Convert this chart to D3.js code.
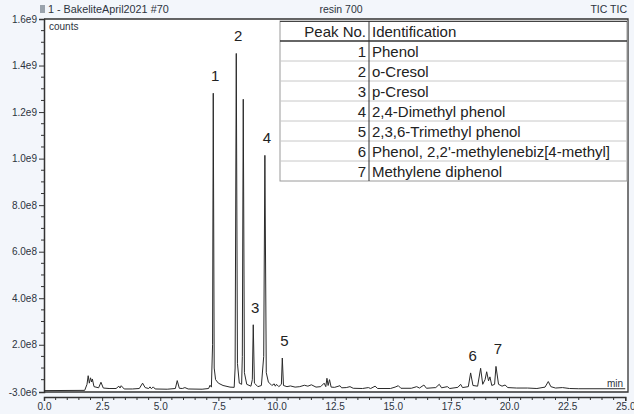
<!DOCTYPE html>
<html><head><meta charset="utf-8">
<script src="https://cdn.jsdelivr.net/npm/d3@7"></script>
<style>
html,body{margin:0;padding:0;background:#f3f6fb;}
svg{display:block;font-family:"Liberation Sans",Arial,sans-serif;}
</style></head>
<body>
<svg id="c" width="634" height="414"></svg>
<script>
// ---- data ----
const rtMinutes = [0.0,1.75,1.85,1.90,1.95,2.00,2.05,2.08,2.15,2.35,2.45,2.55,2.8,3.1,3.22,3.27,3.32,3.45,3.8,4.1,4.24,4.35,4.5,4.56,4.62,4.70,4.78,5.3,5.65,5.73,5.82,5.95,6.06,6.2,6.8,7.08,7.14,7.2,7.25,7.28,7.32,7.38,7.5,7.7,8.0,8.18,8.22,8.27,8.32,8.40,8.50,8.53,8.57,8.62,8.72,8.9,8.96,9.00,9.05,9.2,9.35,9.45,9.50,9.56,9.65,9.8,9.9,9.95,10.0,10.1,10.21,10.25,10.30,10.45,10.6,10.8,11.0,11.2,11.35,11.5,11.7,11.9,12.05,12.12,12.17,12.22,12.28,12.35,12.5,12.73,12.8,13.0,13.16,13.3,13.7,13.95,14.05,14.24,14.35,14.9,15.1,15.24,15.35,15.8,16.03,16.15,16.34,16.45,16.85,17.0,17.1,17.35,17.45,17.8,17.92,18.0,18.25,18.35,18.45,18.65,18.78,18.87,18.97,19.04,19.12,19.18,19.26,19.38,19.44,19.55,19.7,19.83,19.95,20.33,20.8,21.2,21.55,21.69,21.8,22.0,22.3,22.6,23.0,24.0,25.0];
const counts = [3e6,4e6,3.0e7,6.7e7,3.5e7,5.8e7,4.0e7,5.3e7,2.0e7,1.5e7,3.9e7,1.4e7,1.2e7,1.2e7,2.2e7,1.4e7,2.4e7,1.0e7,1.0e7,1.2e7,3.5e7,1.6e7,1.2e7,1.9e7,1.1e7,1.9e7,1.0e7,9e6,1.2e7,4.6e7,1.3e7,1.2e7,1.6e7,1.0e7,9e6,1.2e7,2.6e7,1.8e7,2.0e8,1.281e9,1.0e8,5.0e7,3.5e7,2.5e7,1.8e7,1.7e7,1.0e8,1.452e9,1.2e8,3.5e7,3.0e7,1.5e8,1.255e9,8e7,3.0e7,2.2e7,5e7,2.86e8,3.5e7,2.0e7,2.5e7,1.5e8,1.014e9,8e7,4e7,2.5e7,3.2e7,2.2e7,3.0e7,2.0e7,3.0e7,1.43e8,2.5e7,2.0e7,2.3e7,1.8e7,2.0e7,2.6e7,2.2e7,2.8e7,1.8e7,2.0e7,3.5e7,2.0e7,5.6e7,2.5e7,5.0e7,1.8e7,1.7e7,2.4e7,1.5e7,1.6e7,2.0e7,1.3e7,1.2e7,1.6e7,1.2e7,2.2e7,1.2e7,1.2e7,1.8e7,2.4e7,1.3e7,1.3e7,2.0e7,1.4e7,2.7e7,1.3e7,1.6e7,3.0e7,1.5e7,2.0e7,1.2e7,1.7e7,3.0e7,1.6e7,2.0e7,7.9e7,2.5e7,2.2e7,9.9e7,3.0e7,5e7,8.4e7,4.5e7,6.2e7,2.5e7,3.0e7,1.07e8,3.0e7,2.2e7,2.7e7,1.6e7,1.4e7,1.4e7,1.2e7,1.8e7,4.2e7,2.0e7,1.4e7,1.6e7,1.2e7,1.1e7,1.1e7,1.1e7];

const peakNos = ["1","2","3","4","5","6","7"];
const peakTimes = [7.28,8.27,9.00,9.50,10.25,18.35,19.44];
const peakApex = [1.281e9,1.452e9,2.86e8,1.014e9,1.43e8,7.9e7,1.07e8];
const compounds = ["Phenol","o-Cresol","p-Cresol","2,4-Dimethyl phenol","2,3,6-Trimethyl phenol","Phenol, 2,2'-methylenebiz[4-methyl]","Methylene diphenol"];

const yTickValues = [-3e6,2e8,4e8,6e8,8e8,1.0e9,1.2e9,1.4e9,1.6e9];
const yTickLabels = ["-3.0e6","2.0e8","4.0e8","6.0e8","8.0e8","1.0e9","1.2e9","1.4e9","1.6e9"];
const xTickValues = [0,2.5,5,7.5,10,12.5,15,17.5,20,22.5,25];
const xTickLabels = ["0.0","2.5","5.0","7.5","10.0","12.5","15.0","17.5","20.0","22.5","25.0"];

// ---- layout ----
const svg = d3.select("#c");
const L = 44, R = 628, T = 19, B = 392, XA = 397;
const x = d3.scaleLinear().domain([0,25]).range([L, L + 25*23.25]);
const y = d3.scaleLinear().domain([-3e6,1.6e9]).range([B, T]);
const txt = "#2d3440";

// plot background
svg.append("rect").attr("x",L).attr("y",T).attr("width",R-L).attr("height",B-T).attr("fill","#fff");

// header texts
svg.append("rect").attr("x",40).attr("y",5).attr("width",5).attr("height",8).attr("fill","#9aa3ad");
svg.append("text").attr("x",48).attr("y",13).attr("font-size",10.8).attr("fill",txt).text("1 - BakeliteApril2021 #70");
svg.append("text").attr("x",341).attr("y",13).attr("font-size",10.5).attr("fill",txt).attr("text-anchor","middle").text("resin 700");
svg.append("text").attr("x",627).attr("y",13).attr("font-size",10.5).attr("fill",txt).attr("text-anchor","end").text("TIC TIC");

// y axis
const yMinor = d3.range(0, 1.6e9 + 1, 5e7).filter(v => v % 2e8 !== 0);
const yAx = svg.append("g").attr("transform",`translate(${L},0)`);
yAx.call(d3.axisLeft(y).tickValues(yTickValues).tickSize(5).tickPadding(2).tickFormat((d,i)=>yTickLabels[i]));
yAx.append("g").selectAll("line").data(yMinor).join("line")
  .attr("x1",-3).attr("x2",0).attr("y1",d=>y(d)).attr("y2",d=>y(d)).attr("stroke","#333");
yAx.selectAll(".tick text").attr("font-size",10).attr("fill",txt).attr("font-family","Liberation Sans, Arial");
yAx.selectAll(".tick line").attr("stroke","#333");
yAx.select(".domain").attr("stroke","#333").attr("stroke-width",1.5);

// x axis
const xMinor = d3.range(0, 25.01, 0.5).filter(v => Math.abs(v/2.5 - Math.round(v/2.5)) > 1e-6);
const xAx = svg.append("g").attr("transform",`translate(0,${XA})`);
xAx.call(d3.axisBottom(x).tickValues(xTickValues).tickSize(4).tickPadding(2).tickFormat((d,i)=>xTickLabels[i]));
xAx.append("g").selectAll("line").data(xMinor).join("line")
  .attr("x1",d=>x(d)).attr("x2",d=>x(d)).attr("y1",0).attr("y2",3).attr("stroke","#333");
xAx.selectAll(".tick text").attr("font-size",10).attr("fill",txt).attr("font-family","Liberation Sans, Arial");
xAx.selectAll(".tick line").attr("stroke","#333");
xAx.select(".domain").attr("stroke","#333").attr("stroke-width",1.5);

// plot frame
svg.append("path").attr("d",`M${L},${T}H${R}V${B}H${L}`).attr("fill","none").attr("stroke","#333").attr("stroke-width",1.3);

svg.append("text").attr("x",49).attr("y",30).attr("font-size",10).attr("fill",txt).text("counts");
svg.append("text").attr("x",607).attr("y",387).attr("font-size",10).attr("fill",txt).text("min");

// trace
const pts = rtMinutes.map((t,i)=>[t,counts[i]]);
svg.append("path").datum(pts)
  .attr("d", d3.line().x(d=>x(d[0])).y(d=>y(d[1])))
  .attr("fill","none").attr("stroke","#2a2a2a").attr("stroke-width",1).attr("stroke-linejoin","round");

// peak labels
svg.append("g").selectAll("text").data(peakNos).join("text")
  .attr("x",(d,i)=>x(peakTimes[i])+2).attr("y",(d,i)=>y(peakApex[i])-12)
  .attr("text-anchor","middle").attr("font-size",15).attr("fill","#222").text(d=>d);

// table
const tL = 280, tR = 627, tT = 21, rowH = 20, cDiv = 369;
const tbl = svg.append("g");
const nRows = compounds.length + 1;
tbl.append("rect").attr("x",tL).attr("y",tT).attr("width",tR-tL).attr("height",rowH*nRows).attr("fill","#fff").attr("stroke","#9a9a9a");
tbl.append("line").attr("x1",tL).attr("x2",tR).attr("y1",tT+0.5).attr("y2",tT+0.5).attr("stroke","#444");
tbl.append("line").attr("x1",tL).attr("x2",tR).attr("y1",tT+rowH).attr("y2",tT+rowH).attr("stroke","#333").attr("stroke-width",1.3);
tbl.append("g").selectAll("line").data(compounds.slice(1)).join("line")
  .attr("x1",tL).attr("x2",tR).attr("y1",(d,i)=>tT+rowH*(i+2)).attr("y2",(d,i)=>tT+rowH*(i+2)).attr("stroke","#c8c8c8");
tbl.append("line").attr("x1",cDiv).attr("x2",cDiv).attr("y1",tT).attr("y2",tT+rowH*nRows).attr("stroke","#333");
tbl.append("text").attr("x",cDiv-3).attr("y",tT+16).attr("text-anchor","end").attr("font-size",15).attr("fill","#222").text("Peak No.");
tbl.append("text").attr("x",cDiv+3).attr("y",tT+16).attr("font-size",15).attr("fill","#222").text("Identification");
tbl.append("g").selectAll("text").data(peakNos).join("text")
  .attr("x",cDiv-3).attr("y",(d,i)=>tT+rowH*(i+1)+16).attr("text-anchor","end").attr("font-size",15).attr("fill","#222").text(d=>d);
tbl.append("g").selectAll("text").data(compounds).join("text")
  .attr("x",cDiv+3).attr("y",(d,i)=>tT+rowH*(i+1)+16).attr("font-size",15).attr("fill","#222").text(d=>d);
</script>
</body></html>
